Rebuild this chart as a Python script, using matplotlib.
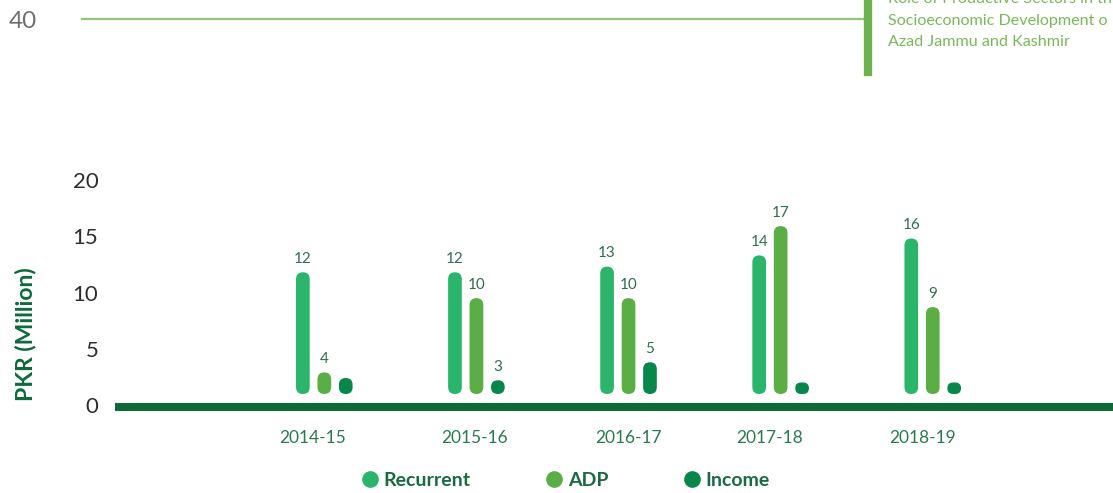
import numpy as np
import matplotlib
matplotlib.use('Agg')
import matplotlib.pyplot as plt
from matplotlib.patches import FancyBboxPatch
from matplotlib.lines import Line2D

plt.rcParams['font.family'] = ['Lato', 'DejaVu Sans']

# data
years = ['2014-15', '2015-16', '2016-17', '2017-18', '2018-19']
# visible bar tops (PKR million)
recurrent = [11.8, 11.8, 12.3, 13.3, 14.8]
adp = [2.9, 9.5, 9.5, 15.9, 8.7]
income = [2.4, 2.2, 3.8, 2.0, 2.0]
# printed value labels
recurrent_lbl = ['12', '12', '13', '14', '16']
adp_lbl = ['4', '10', '10', '17', '9']
income_lbl = ['', '3', '5', '', '']

series_names = ['Recurrent', 'ADP', 'Income']
colors = ['#2bb56b', '#5bae45', '#07874a']
dark = '#0e6a3a'

W, H = 1113, 493
fig = plt.figure(figsize=(W / 100, H / 100), dpi=100)

# page header
fig.text(9 / W, 1 - 21 / H, '40', fontsize=17.5, color='#6f6f6f', va='center', ha='left')
fig.add_artist(Line2D([82 / W, 863 / W], [1 - 18.5 / H, 1 - 18.5 / H], color='#93c47d', lw=1.6))
fig.add_artist(Line2D([867.5 / W, 867.5 / W], [1 - 72 / H, 1.0], color='#6eb14f', lw=6))
hdr = ['Role of Productive Sectors in th', 'Socioeconomic Development o', 'Azad Jammu and Kashmir']
for k, t in enumerate(hdr):
    fig.text(888 / W, 1 - (-1 + 21.5 * k) / H, t, fontsize=11.6, color='#79b95a',
             va='center', ha='left')

# main axes
ax = fig.add_axes([115 / W, (H - 411) / H, (W - 115) / W, (411 - 170) / H])
x = np.arange(len(years))
ax.set_xlim(-1.376, 5.185)
ax.set_ylim(-0.533, 20.89)
for s in ax.spines.values():
    s.set_visible(False)
ax.axhline(-0.178, color=dark, lw=5.8, solid_capstyle='butt')

# px per data unit, for round corners
px_x = 152.1
px_y = 11.25
aspect = px_x / px_y

bw = 0.09
off = 0.141
base = 0.98
for j, (vals, lbls) in enumerate([(recurrent, recurrent_lbl), (adp, adp_lbl), (income, income_lbl)]):
    for i, v in enumerate(vals):
        xc = x[i] + (j - 1) * off
        h = v - base
        r = min(bw / 2, h / aspect / 2)
        p = FancyBboxPatch((xc - bw / 2, base), bw, h,
                           boxstyle=f'round,pad=0,rounding_size={r}',
                           mutation_aspect=aspect, fc=colors[j], ec='none')
        ax.add_patch(p)
        if lbls[i]:
            ax.annotate(lbls[i], (xc, v), xytext=(0, 4.5), textcoords='offset points',
                        ha='center', va='bottom', fontsize=11, color='#2f6e4e')

ax.set_yticks([0, 5, 10, 15, 20])
ax.set_yticklabels(['0', '5', '10', '15', '20'])
ax.tick_params(axis='y', length=0, pad=12, labelsize=16, labelcolor='#2e2e2e')
# tick labels sit a bit off the group centres in the original
tick_shift = [-0.08, -0.01, -0.0, -0.07, -0.07]
ax.set_xticks(x + np.array(tick_shift))
ax.set_xticklabels(years)
ax.tick_params(axis='x', length=0, pad=14, labelsize=12.5, labelcolor='#2a7a4e')

fig.text(25.5 / W, 1 - 334 / H, 'PKR (Million)', rotation=90, fontsize=16.5, fontweight='bold',
         color=dark, ha='center', va='center')

handles = [Line2D([], [], ls='none', marker='o', markersize=11, color=c) for c in colors]
leg = fig.legend(handles, series_names, loc='center', bbox_to_anchor=(566 / W, 1 - 480 / H),
                 ncol=3, frameon=False, handlelength=0.8, handletextpad=0.3, columnspacing=3.9,
                 prop={'size': 14, 'weight': 'bold'})
for t in leg.get_texts():
    t.set_color('#1a6b41')

fig.savefig('out.png', dpi=100)
